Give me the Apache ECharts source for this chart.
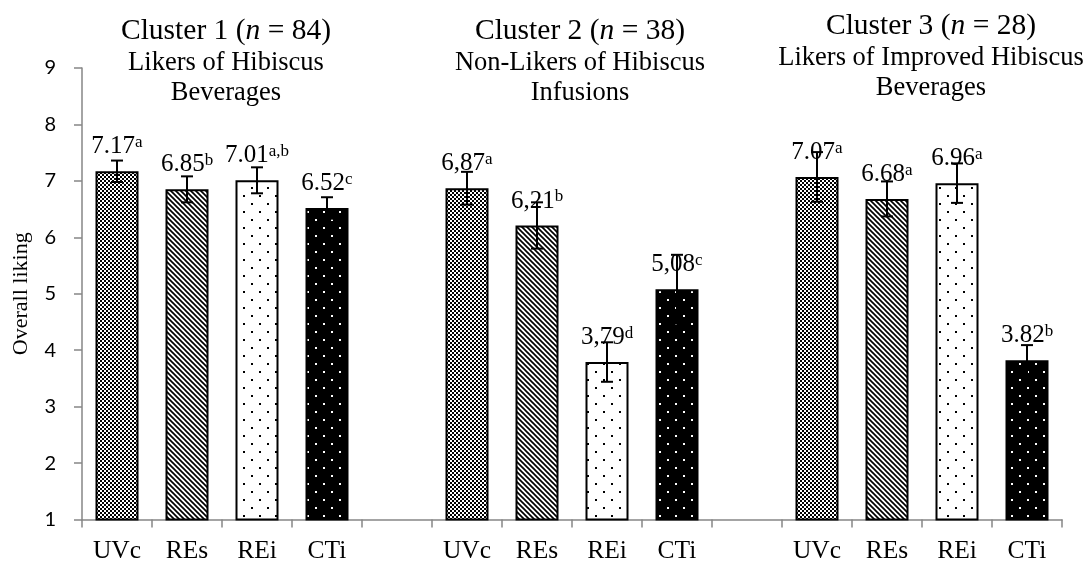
<!DOCTYPE html>
<html>
<head>
<meta charset="utf-8">
<script src="https://cdn.jsdelivr.net/npm/echarts@6/dist/echarts.min.js"></script>
<style>
  html, body { margin: 0; padding: 0; background: #ffffff; }
  #chart { width: 1089px; height: 561px; }
</style>
</head>
<body>
<div id="chart"></div>
<script>
// Treatments shown inside every cluster
const treatments = ['UVc', 'REs', 'REi', 'CTi'];

// Consumer clusters
const clusterNames = ['Cluster 1', 'Cluster 2', 'Cluster 3'];
const clusterSizes = [84, 38, 28];
const clusterDescriptions = [
  ['Likers of Hibiscus', 'Beverages'],
  ['Non-Likers of Hibiscus', 'Infusions'],
  ['Likers of Improved Hibiscus', 'Beverages']
];
const decimalMarks = ['.', ',', '.'];

// Mean overall liking per treatment
const meansC1 = [7.17, 6.85, 7.01, 6.52];
const meansC2 = [6.87, 6.21, 3.79, 5.08];
const meansC3 = [7.07, 6.68, 6.96, 3.82];

// Error bar half-widths
const errorsC1 = [0.19, 0.23, 0.23, 0.19];
const errorsC2 = [0.29, 0.41, 0.35, 0.61];
const errorsC3 = [0.44, 0.31, 0.35, 0.27];

// Significance letters
const lettersC1 = ['a', 'b', 'a,b', 'c'];
const lettersC2 = ['a', 'b', 'd', 'c'];
const lettersC3 = ['a', 'a', 'a', 'b'];

// Value axis range
const yMin = 1;
const yMax = 9;
const yStep = 1;

const allMeans = [meansC1, meansC2, meansC3];
const allErrors = [errorsC1, errorsC2, errorsC3];
const allLetters = [lettersC1, lettersC2, lettersC3];

// ---- fill patterns -------------------------------------------------------
function tile(size, draw) {
  const c = document.createElement('canvas');
  c.width = size; c.height = size;
  draw(c.getContext('2d'), size);
  return c;
}
const checkerTile = tile(4, (g) => {
  g.fillStyle = '#ffffff'; g.fillRect(0, 0, 4, 4);
  g.fillStyle = '#000000'; g.fillRect(0, 0, 2, 2); g.fillRect(2, 2, 2, 2);
});
const diagonalTile = tile(5, (g, s) => {
  g.fillStyle = '#ffffff'; g.fillRect(0, 0, s, s);
  g.strokeStyle = '#000000'; g.lineWidth = 1.7;
  for (let k = -1; k <= 1; k++) {
    g.beginPath(); g.moveTo(-s, -s + k * s); g.lineTo(2 * s, 2 * s + k * s); g.stroke();
  }
});
const darkDotsTile = tile(16, (g) => {
  g.fillStyle = '#ffffff'; g.fillRect(0, 0, 16, 16);
  g.fillStyle = '#000000'; g.fillRect(3, 3, 2, 2); g.fillRect(11, 11, 2, 2);
});
const lightDotsTile = tile(16, (g) => {
  g.fillStyle = '#000000'; g.fillRect(0, 0, 16, 16);
  g.fillStyle = '#ffffff'; g.fillRect(3, 3, 2, 2); g.fillRect(11, 11, 2, 2);
});
const fills = [checkerTile, diagonalTile, darkDotsTile, lightDotsTile].map(
  (img) => ({ image: img, repeat: 'repeat' })
);

// ---- build category axis, bars, error bars, labels -----------------------
const categories = [];
const barData = [];
const errorData = [];
const labelTexts = [];

allMeans.forEach((means, ci) => {
  if (ci > 0) { categories.push(''); barData.push('-'); labelTexts.push(''); }
  treatments.forEach((t, ti) => {
    const idx = categories.length;
    const m = means[ti];
    const e = allErrors[ci][ti];
    categories.push(t);
    barData.push({
      value: m,
      itemStyle: { color: fills[ti], borderColor: '#000000', borderWidth: 2 }
    });
    errorData.push([idx, m - e, m + e]);
    labelTexts.push('{v|' + m.toFixed(2).replace('.', decimalMarks[ci]) + '}{s|' + allLetters[ci][ti] + '}');
  });
});

// ---- cluster headings ----------------------------------------------------
const headingCenters = [226, 580, 931];
const headingTops = [0, 0, -5];
const serif = '"Liberation Serif", "Times New Roman", serif';
const headings = [];
clusterNames.forEach((name, ci) => {
  const x = headingCenters[ci];
  const dy = headingTops[ci];
  headings.push({
    type: 'text', silent: true,
    style: {
      x: x, y: 31.5 + dy, align: 'center', verticalAlign: 'middle',
      text: '{a|' + name + ' (}{i|n}{a| = ' + clusterSizes[ci] + ')}',
      rich: {
        a: { fontFamily: serif, fontSize: 29.5, fill: '#000000' },
        i: { fontFamily: serif, fontSize: 29.5, fontStyle: 'italic', fill: '#000000' }
      }
    }
  });
  clusterDescriptions[ci].forEach((line, li) => {
    headings.push({
      type: 'text', silent: true,
      style: {
        x: x, y: 63.2 + li * 30 + dy, align: 'center', verticalAlign: 'middle',
        text: line, fontFamily: serif, fontSize: 26.5, fill: '#000000'
      }
    });
  });
});

const axisGray = '#868686';

const option = {
  backgroundColor: '#ffffff',
  animation: false,
  grid: { left: 82, right: 27, top: 68, bottom: 41.5, containLabel: false, outerBoundsMode: 'none' },
  xAxis: {
    type: 'category',
    data: categories,
    boundaryGap: true,
    axisLine: { lineStyle: { color: axisGray, width: 1.5 } },
    axisTick: { show: true, interval: 0, length: 8, lineStyle: { color: axisGray, width: 1.5 } },
    axisLabel: { interval: 0, margin: 19, color: '#000000', fontFamily: serif, fontSize: 25.5 },
    splitLine: { show: false }
  },
  yAxis: {
    type: 'value',
    min: yMin, max: yMax, interval: yStep,
    name: 'Overall liking',
    nameLocation: 'middle',
    nameGap: 50,
    nameTextStyle: { color: '#000000', fontFamily: serif, fontSize: 22 },
    axisLine: { show: true, lineStyle: { color: axisGray, width: 1.5 } },
    axisTick: { show: true, length: 8, lineStyle: { color: axisGray, width: 1.5 } },
    axisLabel: { margin: 26, color: '#000000', fontFamily: 'Lato, "Open Sans", sans-serif', fontSize: 20 },
    splitLine: { show: false }
  },
  graphic: headings,
  series: [
    {
      type: 'bar',
      data: barData,
      barWidth: 43,
      z: 2,
      label: {
        show: true,
        position: 'top',
        distance: 12,
        formatter: (p) => labelTexts[p.dataIndex],
        rich: {
          v: { fontFamily: serif, fontSize: 25, lineHeight: 25, color: '#000000' },
          s: { fontFamily: serif, fontSize: 17, lineHeight: 17, verticalAlign: 'top', color: '#000000' }
        }
      }
    },
    {
      type: 'custom',
      z: 4,
      data: errorData,
      renderItem: (params, api) => {
        const lo = api.coord([api.value(0), api.value(1)]);
        const hi = api.coord([api.value(0), api.value(2)]);
        const cap = 6;
        const st = { stroke: '#000000', lineWidth: 2 };
        return {
          type: 'group',
          children: [
            { type: 'line', shape: { x1: hi[0], y1: hi[1], x2: lo[0], y2: lo[1] }, style: st },
            { type: 'line', shape: { x1: hi[0] - cap, y1: hi[1], x2: hi[0] + cap, y2: hi[1] }, style: st },
            { type: 'line', shape: { x1: lo[0] - cap, y1: lo[1], x2: lo[0] + cap, y2: lo[1] }, style: st }
          ]
        };
      }
    }
  ]
};

const chart = echarts.init(document.getElementById('chart'), null, { renderer: 'canvas' });
chart.setOption(option);
</script>
</body>
</html>
